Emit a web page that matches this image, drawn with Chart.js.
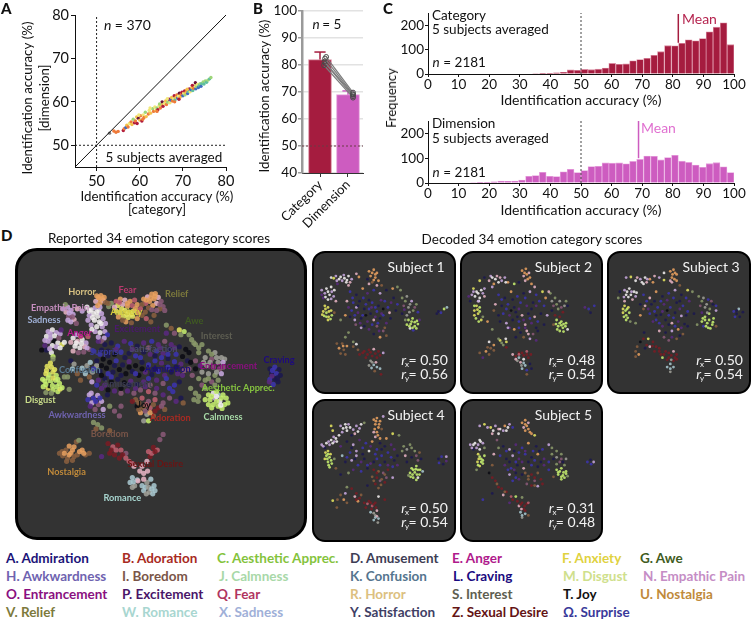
<!DOCTYPE html>
<html>
<head>
<meta charset="utf-8">
<title>Identification accuracy and emotion maps</title>
<script src="https://cdn.jsdelivr.net/npm/chart.js@4/dist/chart.umd.min.js"></script>
<style>
  html, body { margin: 0; padding: 0; background: #fff; }
  body { position: relative; width: 752px; height: 619px; overflow: hidden; font-family: Lato, sans-serif; color: #111; }
  canvas { position: absolute; }
  .txt { position: absolute; white-space: nowrap; transform: translateY(-50%); }
  .letter { font-weight: 900; font-size: 15px; }
  .title { font-size: 13.5px; transform: translate(-50%, -50%); }
  .legend { font-weight: 700; font-size: 13.5px; }
  .box { position: absolute; box-sizing: border-box; background: #333; border: 3px solid #000; }
</style>
</head>
<body>
<script>
'use strict';

// ---- panel A data ----
const ticksA = [50, 60, 70, 80];
const colorsA = ['#b01a3c', '#ee7a3a', '#f4c04a', '#f0e878', '#9ed67a', '#5ebfa0', '#3e6cc0', '#6a1238', '#777777'];
// x, y, colour index
const pointsA = [
  [53,52.8,8],[54,53.3,1],[54.5,53,1],[55,53.2,1],[56.2,53.4,0],[56.4,53.8,1],[56.8,54.1,6],[57,54.6,2],[57.3,54.2,1],[57.6,55,3],
  [58,55.4,1],[58.2,54.8,2],[58.5,56,4],[58.8,55.2,0],[59,55.6,1],[59.3,56.5,2],[59.4,55,0],[59.7,56.2,7],[60,55.8,2],[60.2,56.8,1],
  [60.5,55.6,0],[60.8,57,3],[61,56.4,1],[61.3,57.6,4],[61.5,56.6,2],[62,57.2,1],[62.2,58,3],[62.5,57.4,2],[63,58.4,4],[63.2,57.8,1],
  [63.5,58.8,3],[63.8,58,2],[64,58.6,4],[64.2,58.2,0],[64.5,59.1,3],[64.8,58.6,1],[65,59.4,2],[65.2,60,7],[65.4,59,0],[65.7,59.6,3],
  [66,60.2,2],[66.2,59.4,1],[66.5,59.9,4],[66.8,60.6,0],[67,59.8,3],[67.2,60.4,6],[67.4,61,2],[67.6,60.2,1],[67.9,60.8,3],[68,61.4,0],
  [68.2,60.5,5],[68.4,61,2],[68.6,61.6,1],[68.8,60.9,6],[69,61.3,3],[69.2,62,7],[69.4,61.1,2],[69.6,61.7,1],[69.8,62.2,0],[70,61.4,6],
  [70.2,62,3],[70.4,62.5,0],[70.5,61.6,4],[70.7,62.1,2],[70.9,62.7,1],[71.1,61.9,6],[71.3,62.4,5],[71.5,63,0],[71.7,62.3,3],[71.9,62.8,6],
  [72.1,63.3,2],[72.3,62.6,5],[72.5,63.1,1],[72.7,63.7,3],[72.9,64.4,7],[73,63,6],[73.2,63.5,4],[73.4,64,3],[73.6,63.3,6],[73.8,63.8,5],
  [74,64.2,4],[74.2,63.6,6],[74.4,64.2,5],[74.7,64.6,4],[74.9,64.1,5],[75.2,64.8,4],[75.5,64.5,5],[75.8,65,4],[76.2,65.3,5],[76.5,65.6,4],
  [62.4,58.6,3],[64.6,59.5,4],[66.4,60.7,3],[68.1,60,1],[69.1,60.6,0],[71,62.9,2],[72.2,63.8,0],[64,57.8,1],[60.7,56,1],[59.8,57,3]
];

// ---- panel B data ----
const categoriesB = ['Category', 'Dimension'];
const ticksB = [40, 50, 60, 70, 80, 90, 100];
const meansB = [82, 69];
const errorTopB = [84.8, 70.4];
const subjectsCategoryB = [83, 82.4, 81.2, 80.5, 79.9];
const subjectsDimensionB = [69.8, 69.2, 69, 68.4, 67.9];
const subjectsOffsetB = [0.22, 0.18, 0.16, 0.2, 0.14];

// ---- panel C data ----
const ticksCx = [0, 10, 20, 30, 40, 50, 60, 70, 80, 90, 100];
const ticksCy = [0, 100, 200];
const binCenters = [1.1,3.4,5.7,8.0,10.2,12.5,14.8,17.0,19.3,21.6,23.9,26.1,28.4,30.7,33.0,35.2,37.5,39.8,42.0,44.3,46.6,48.9,
  51.1,53.4,55.7,58.0,60.2,62.5,64.8,67.0,69.3,71.6,73.9,76.1,78.4,80.7,83.0,85.2,87.5,89.8,92.0,94.3,96.6,98.9];
const categoryFreq = [0,0,0,0,0,0,0,0,0,0,0,0,0,0,0,2,1,3,5,7,17,15,
  19,18,20,25,44,40,42,55,60,65,78,93,118,117,128,142,138,148,176,195,213,122];
const dimensionFreq = [0,0,0,0,0,0,2,1,3,5,8,7,8,12,27,30,43,27,26,45,55,42,
  50,66,67,81,80,81,77,87,95,109,108,93,103,112,88,83,72,63,78,82,65,42];
const meanCategory = 81.8;
const meanDimension = 68.8;

// ---- panel D data ----
const scatterColors = ['#f4f0f0', '#c9a8e0', '#e8b4c4', '#e8a060', '#e6e660', '#c8f070', '#8a9a6a', '#3c34b0', '#1c1850',
  '#5a2a80', '#7a1c24', '#8a6040', '#0c0c14', '#a8c8d0', '#8a5a78', '#c06070', '#a0a098'];

const reportedPoints = [
  [285,205,3],[298,204,3],[308,210,3],[293,215,3],[304,220,2],[312,225,11],[282,222,2],[295,228,3],
  [330,228,6],[345,222,15],[358,215,3],[372,218,2],[388,222,3],[402,218,15],[350,235,4],[365,232,2],[380,236,3],[395,235,15],[410,232,3],[322,238,6],
  [430,215,3],[442,208,2],[455,200,3],[466,198,3],[475,210,2],[462,214,3],[448,222,3],[436,228,15],[425,232,11],[470,228,2],[484,222,14],[490,238,14],[480,245,11],[458,235,3],[445,242,11],[470,250,14],[495,250,14],
  [345,252,4],[358,258,4],[372,250,4],[385,255,4],[398,252,4],[412,258,3],[352,270,3],[368,268,4],[382,272,4],[396,268,4],[410,275,3],[375,285,3],[392,288,11],[425,265,11],[438,275,15],[452,285,11],
  [255,240,0],[268,248,0],[280,242,1],[292,252,0],[275,260,0],[262,265,1],[288,268,0],[300,260,1],[278,280,0],[293,285,0],[305,275,1],[268,295,1],[285,300,0],[302,300,1],[310,315,1],[318,325,7],[295,318,0],[280,315,1],[308,335,1],[300,345,14],[240,252,1],
  [195,240,1],[205,250,1],[190,255,2],[212,262,1],[198,268,14],[215,278,2],[205,285,1],[222,290,14],[188,232,6],[225,245,2],
  [135,315,1],[148,310,0],[160,318,1],[172,322,1],[130,330,0],[142,335,1],[155,345,12],[165,350,0],[178,355,4],[185,348,0],[135,345,1],[148,358,0],[125,358,9],[115,372,12],[130,372,8],[160,362,1],[175,310,9],[145,380,0],[150,392,5],
  [212,335,0],[225,345,2],[240,340,0],[252,350,1],[218,360,0],[233,365,0],[248,362,2],[212,375,2],[228,380,14],[245,378,14],[258,330,15],[222,325,1],[262,370,14],
  [150,400,6],[145,425,4],[130,435,4],[155,432,4],[138,448,5],[160,450,5],[125,468,5],[142,470,5],[158,465,5],[170,475,5],[120,485,5],[135,490,4],[150,495,5],[165,500,5],[128,503,6],[172,492,4],[145,505,6],[140,482,12],[185,455,6],[200,493,6],[195,455,6],
  [205,405,8],[215,415,16],[240,428,13],[255,420,16],[265,410,13],[250,445,13],[262,455,11],[235,465,11],[272,440,16],[285,420,16],[210,430,13],[225,445,11],
  [290,345,9],[310,355,8],[330,350,8],[350,360,7],[370,345,9],[390,352,7],[410,360,8],[430,350,9],[455,345,7],[475,355,9],[495,345,14],[515,355,9],[540,362,8],[560,370,12],
  [275,375,7],[295,385,7],[320,375,8],[340,385,12],[360,378,7],[385,382,8],[405,390,7],[430,378,8],[450,385,9],[470,375,7],[490,382,9],[510,370,8],[530,385,7],[550,392,12],[570,380,12],[585,350,6],
  [285,405,8],[305,400,12],[325,410,12],[345,405,7],[365,418,8],[385,408,9],[405,420,12],[425,410,8],[445,418,7],[465,405,7],[485,412,9],[505,398,8],[525,408,7],[545,415,9],[565,405,8],
  [275,430,7],[295,438,8],[315,428,12],[335,440,8],[355,432,12],[375,445,12],[395,438,8],[415,450,12],[435,440,9],[455,448,8],[475,438,7],[495,450,9],[515,440,8],[535,445,9],[555,435,14],
  [290,465,9],[310,460,8],[330,470,12],[350,462,8],[370,472,12],[390,468,9],[410,478,8],[430,470,9],[450,480,14],[470,465,9],[490,475,14],[510,490,7],[525,480,7],[520,500,7],[540,470,8],
  [320,495,12],[318,510,8],[340,498,9],[360,505,14],[380,498,9],[400,505,14],[420,495,14],[445,500,15],[465,505,14],[490,510,9],[510,520,14],[545,520,8],[552,535,11],[530,530,9],
  [262,510,1],[275,520,7],[258,525,7],[288,512,1],[270,535,1],[290,540,14],[300,530,1],[280,555,14],[305,555,1],[325,545,6],[340,560,14],[355,575,14],[360,545,14],[300,490,9],
  [405,525,11],[425,520,15],[445,530,14],[465,525,15],[490,535,14],[410,545,12],[430,550,11],[450,550,15],[475,550,10],[495,555,11],[420,565,3],[440,570,16],[460,575,11],[430,590,16],[445,590,5],[395,530,10],
  [275,595,6],[288,602,6],[283,615,11],[325,620,11],[300,612,6],
  [500,295,6],[515,305,11],[540,310,4],[555,315,5],[570,325,6],[545,325,6],[578,340,6],[525,320,14],[500,320,9],
  [590,355,6],[610,355,6],[630,375,6],[650,380,16],[670,395,16],[600,380,6],[620,395,16],[640,400,14],[660,410,16],[680,400,16],[590,405,14],[605,420,9],[625,420,16],[645,425,14],[665,430,14],[610,440,16],[630,445,16],[650,450,6],[670,445,1],[600,460,6],[620,465,6],[640,470,14],[660,465,6],[590,430,12],
  [575,490,6],[590,505,6],[600,515,6],[585,525,6],[598,530,6],
  [630,510,5],[645,505,0],[660,510,13],[675,510,5],[685,520,5],[635,525,5],[650,520,1],[665,530,0],[680,540,5],[630,540,5],[645,540,5],[660,545,5],[672,552,5],[655,500,5],
  [820,430,8],[835,425,7],[848,432,8],[825,445,8],[840,445,7],[852,450,8],[820,462,7],[835,462,8],[845,470,8],[830,478,7],[818,470,9],
  [178,685,11],[190,680,11],[205,690,3],[215,670,3],[222,655,11],[180,698,11],[195,705,11],[210,712,11],[225,695,11],[240,680,3],[250,695,11],[262,690,11],[230,650,6],[200,668,3],
  [320,660,10],[335,670,15],[350,665,10],[325,690,10],[340,695,10],[360,680,15],[375,690,14],[355,705,10],[385,715,15],[400,730,2],[300,700,9],[445,685,15],[460,672,10],[472,680,15],[450,700,10],[440,715,2],[418,745,2],[430,752,2],[442,745,2],
  [395,765,13],[410,772,13],[388,780,13],[402,790,16],[425,790,13],[440,780,16],[452,770,13],[462,790,13],[430,805,13],[448,810,16],[465,805,13],[412,775,2],[490,632,14],[480,648,14],
  [128,445,4],[150,440,4],[118,462,5],[135,458,5],[150,458,4],[165,462,5],[128,478,5],[148,482,5],[162,485,5],[178,488,5],[132,422,4],[142,412,4],
  [262,252,0],[272,272,0],[285,255,0],[295,240,1],[258,280,1],[270,308,0],[290,332,1],[312,290,1],[298,290,0],[200,258,1],[210,270,14],[196,280,1],[180,245,1],
  [142,322,1],[155,328,0],[168,335,14],[125,342,1],[140,368,1],[172,365,0],[222,350,0],[238,352,0],[205,348,2],[235,330,15],[255,365,1],
  [290,210,3],[302,214,3],[288,235,3],[320,228,11],[362,245,4],[378,262,4],[392,262,4],[405,244,3],[340,240,2],[420,245,15],[365,280,11],[355,225,15],[380,228,3],
  [438,218,3],[452,212,3],[465,206,3],[480,232,14],[455,248,14],[435,255,11],[462,265,11],
  [300,372,8],[320,390,8],[345,370,9],[372,395,8],[395,370,9],[420,395,7],[445,365,14],[465,390,8],[480,365,9],[505,385,7],[525,365,9],[300,420,12],[320,445,7],[340,420,8],[360,450,8],[385,425,12],[405,445,7],[425,430,12],[445,460,7],[465,430,8],[485,395,7],[505,425,7],[530,425,8],[550,450,9],[570,430,14],[300,450,12],[330,455,7],[360,490,12],[385,480,8],[405,490,9],[435,485,9],[470,490,9],[500,460,7],[285,480,7],[270,470,1],[310,480,9],[575,410,12],[580,450,14],
  [600,365,6],[640,385,6],[655,395,16],[675,410,1],[615,410,16],[635,410,16],[655,440,16],[675,425,14],[630,460,6],[650,480,6],[610,480,14],[620,490,6],
  [640,515,5],[655,530,5],[670,520,5],[640,550,5],[620,525,5],[690,535,5],[668,542,0],[655,515,0],[828,435,7],[843,458,8],[826,452,9],
  [415,535,11],[438,540,15],[460,540,11],[485,545,14],[435,560,14],[450,565,3],[415,555,11],[465,560,10],[268,505,1],[282,530,7],[295,520,7],[265,545,9],
  [185,690,3],[200,695,3],[215,700,11],[232,685,3],[192,715,11],[170,690,11],[245,690,3],[210,680,3],
  [330,680,10],[345,680,15],[365,695,10],[375,705,15],[395,722,15],[455,690,15],[465,685,10],[425,730,2],
  [398,778,13],[395,795,16],[435,795,13],[445,795,16],[455,800,13],[438,815,16],[458,815,13],[430,770,2]
];

const subject1Points = [
  [70,150,0],[85,145,1],[100,148,0],[112,152,0],[125,145,0],[135,155,1],[150,138,2],[158,148,3],[118,165,0],[105,160,1],[125,175,2],[78,152,4],[90,170,9],
  [190,130,3],[205,125,3],[215,135,3],[195,145,3],[210,150,3],[220,160,3],[200,165,11],[215,175,2],[185,155,8],[230,175,11],
  [40,190,1],[55,185,0],[70,180,0],[80,190,0],[50,200,1],[65,205,0],[78,210,1],[85,225,2],[60,220,0],[45,215,9],
  [50,240,4],[60,245,4],[45,258,4],[55,262,5],[70,255,4],[48,272,5],[62,275,4],[72,270,5],[60,285,4],[80,262,11],
  [130,195,7],[150,205,8],[170,185,3],[185,200,9],[205,190,7],[225,200,1],[245,190,8],[265,185,3],[280,180,6],[120,225,2],[140,230,7],[160,225,8],[180,235,7],[200,230,7],[220,240,8],[240,225,7],[260,230,9],
  [135,255,7],[155,262,9],[175,250,8],[195,265,8],[215,258,7],[235,250,12],[255,262,2],[275,255,8],[145,285,1],[165,280,8],[185,290,9],[205,285,2],[225,280,8],[245,295,9],[115,270,3],[100,285,6],
  [165,310,1],[190,315,9],[215,305,14],[235,320,14],[245,335,11],[205,330,8],[225,340,3],[150,245,1],[170,270,7],[210,275,9],[190,250,7],[130,275,8],[230,265,9],
  [295,215,6],[310,210,16],[325,225,1],[340,235,6],[300,240,14],[315,245,16],[330,255,6],[345,260,7],[295,265,8],[310,270,16],
  [315,285,5],[328,280,5],[342,288,5],[310,300,5],[322,298,5],[335,305,5],[345,298,5],[320,312,0],[330,318,7],[350,285,9],
  [410,258,8],[405,265,8],[418,262,7],[428,250,5],[437,245,13],
  [105,360,11],[95,375,3],[110,380,11],[100,392,11],[120,368,3],[115,340,6],[125,325,6],[150,362,0],[140,370,11],[155,380,11],[160,395,10],[175,385,10],[190,380,10],[205,378,2],[220,385,10],[235,390,1],[185,395,10],[200,400,10],[215,405,10],[195,415,16],[205,428,13],[215,435,13],[190,430,16],[225,440,13],[208,448,11],[228,458,10],
  [95,155,0],[110,142,1],[120,158,0],[130,165,2],[88,160,1],[200,135,3],[210,140,3],[205,158,3],[190,170,2],[60,195,0],[72,195,1],[52,212,0],[70,218,1],[40,205,9],[52,250,4],[63,258,4],[55,275,5],[42,268,4],[68,282,5],
  [138,215,7],[155,240,8],[172,215,7],[190,222,8],[210,245,7],[228,222,9],[250,245,7],[268,215,8],[125,245,9],[145,270,7],[162,295,9],[180,270,12],[198,245,9],[218,295,7],[235,270,7],[258,280,8],[280,235,7],[175,305,8],[200,300,7],[222,320,9],[148,300,14],[240,310,11],
  [290,190,6],[305,225,6],[320,235,16],[335,245,14],[318,260,16],[302,252,9],[325,290,5],[335,292,5],[318,305,5],[328,310,5],[340,312,5],[305,285,6],[170,390,10],[195,388,10],[210,392,10],[180,405,10],[225,398,10],[200,420,16],[198,438,13],[212,420,2],[140,355,6],[88,360,11],[108,368,3],[115,395,11]
];

const subject2Points = [
  [515,160,4],[550,145,1],[565,155,0],[580,150,2],[560,170,3],[595,150,1],[605,165,3],[625,170,5],[545,160,2],[575,165,0],[530,150,8],
  [650,128,3],[662,122,3],[672,135,2],[655,145,2],[668,155,3],[680,170,3],[690,180,2],[640,165,8],
  [490,205,1],[505,195,0],[520,190,0],[530,185,1],[500,210,0],[515,215,0],[485,225,8],[530,210,2],[495,185,4],
  [505,240,4],[515,245,5],[498,255,4],[510,265,4],[503,280,5],[520,285,4],[525,275,6],[512,225,0],
  [575,205,7],[595,215,8],[615,195,3],[635,210,7],[655,200,8],[675,195,1],[695,205,7],[715,195,4],[565,235,2],[585,240,8],[605,235,7],[625,245,8],[645,230,7],[665,240,9],[685,230,8],[705,225,7],[725,215,3],
  [590,265,7],[610,270,9],[630,260,8],[650,270,2],[670,265,8],[690,275,2],[710,265,8],[580,290,8],[600,295,1],[620,285,8],[640,290,7],[660,300,2],[680,295,9],[700,290,7],[730,270,1],
  [625,315,3],[645,325,8],[665,320,2],[685,330,14],[700,320,8],[655,340,11],[675,345,1],[610,310,9],[540,290,3],[560,255,11],[630,340,8],[695,350,9],
  [740,200,6],[755,215,6],[770,225,16],[785,240,16],[750,240,14],[765,250,6],[780,260,10],[735,195,2],[795,240,8],
  [760,285,5],[775,290,5],[790,295,5],[765,305,5],[780,310,5],[795,315,0],[770,320,5],[750,300,11],[755,270,10],
  [862,250,7],[868,262,8],[880,240,7],[850,245,9],
  [550,375,11],[535,385,3],[545,395,11],[525,405,9],[560,365,3],[555,315,6],[580,350,4],[590,365,6],[575,345,6],[598,345,0],[600,372,10],[545,355,0],[515,390,11],
  [630,400,10],[650,390,10],[665,385,15],[620,395,2],[640,405,13],[655,410,0],[670,405,10],[645,420,2],[660,430,13],[650,440,13],[665,445,7],[675,425,8],[680,440,8],[665,458,11],[635,415,16],
  [555,150,0],[570,145,2],[585,160,1],[598,165,0],[555,180,1],[658,135,3],[665,140,3],[660,160,2],[675,150,3],[510,200,0],[525,200,1],[495,195,1],[510,225,1],[480,210,9],[498,240,5],[508,252,4],[515,258,5],[498,270,4],[512,290,5],
  [585,220,7],[600,250,7],[620,220,8],[640,250,9],[660,215,7],[680,250,8],[695,240,9],[720,240,7],[575,270,8],[615,255,12],[635,275,8],[655,285,9],[675,280,7],[695,310,8],[605,310,1],[640,310,7],[660,310,9],[670,330,2],[720,300,8],
  [745,225,16],[760,235,6],[775,245,14],[790,225,6],[745,255,8],[770,275,10],[770,295,5],[782,298,5],[758,298,5],[775,302,5],[788,305,5],[762,315,5],[782,322,5],[640,390,10],[655,398,10],[630,410,2],[665,395,10],[648,430,16],[655,422,13],[640,395,15],[678,395,10],[560,382,11],[540,372,11],[585,358,6],[600,355,4]
];

const subject3Points = [
  [955,150,1],[970,148,4],[985,160,0],[1000,155,1],[1015,150,0],[1030,155,3],[1045,145,2],[1060,150,1],[1010,170,0],[1020,165,2],[1075,135,0],[1075,158,4],
  [1095,130,3],[1105,125,3],[1115,140,3],[1100,150,3],[1115,160,3],[1100,165,2],[1125,175,11],
  [935,195,8],[950,190,1],[965,185,0],[980,195,0],[955,205,0],[970,205,0],[985,210,1],[975,220,2],[930,215,6],[950,225,2],
  [950,240,4],[958,250,5],[945,262,4],[955,270,5],[965,262,5],[955,285,5],[968,290,6],
  [1010,205,7],[1030,215,2],[1050,195,3],[1070,210,8],[1090,200,7],[1110,190,1],[1130,205,8],[1150,190,4],[1165,195,6],[1015,240,2],[1035,235,8],[1055,245,7],[1075,235,9],[1095,245,7],[1115,230,8],[1135,240,7],[1155,225,9],
  [1030,265,7],[1050,270,8],[1070,258,9],[1090,270,7],[1110,262,8],[1130,272,1],[1150,258,7],[1170,265,8],[1040,290,9],[1060,295,7],[1080,285,8],[1100,295,2],[1120,290,9],[1140,298,8],[1000,270,3],[985,295,6],
  [1080,325,8],[1100,320,1],[1120,315,3],[1135,330,11],[1100,340,9],[1150,305,8],[1060,320,2],[1090,350,14],[1115,345,11],[1010,250,11],[1000,235,8],
  [1185,210,6],[1200,215,16],[1215,220,7],[1230,235,8],[1190,240,14],[1205,245,16],[1220,250,6],[1240,255,1],
  [1205,275,5],[1218,265,5],[1232,280,5],[1195,290,5],[1212,295,5],[1228,300,5],[1240,305,11],[1215,310,5],[1180,300,6],[1200,305,7],
  [1296,258,7],[1305,265,8],[1312,250,13],[1300,275,7],[1315,275,8],[1325,260,8],
  [990,370,11],[985,385,11],[995,395,3],[985,402,11],[1012,325,8],[1025,345,4],[1040,355,10],[1030,370,2],[1050,370,10],[1045,385,10],[1060,385,10],[1075,395,10],[1090,390,10],[1105,385,2],[1115,395,10],[1070,405,5],[1090,405,10],[1105,415,10],[1095,425,13],[1085,435,13],[1105,435,13],[1095,450,16],[1115,410,10],[1020,365,10],[1000,355,12],
  [990,150,2],[1005,165,0],[1022,155,1],[1040,165,3],[1110,135,3],[1102,140,3],[1108,155,3],[1095,160,2],[958,195,0],[972,195,1],[988,198,0],[962,212,0],[948,212,1],[953,255,5],[962,245,4],[948,275,5],[960,278,5],[945,250,4],
  [1020,225,7],[1045,225,8],[1065,225,7],[1085,222,9],[1105,215,7],[1125,225,8],[1145,215,7],[1025,250,9],[1045,258,7],[1065,268,8],[1085,255,12],[1105,278,7],[1125,250,9],[1145,270,8],[1050,285,7],[1070,305,9],[1090,300,8],[1110,305,7],[1130,310,9],[1075,340,14],[1125,335,8],
  [1195,225,6],[1210,235,16],[1225,225,14],[1240,240,7],[1195,262,9],[1212,262,16],[1205,285,5],[1218,285,5],[1230,292,5],[1208,305,5],[1222,312,5],[1198,280,5],[1305,255,8],[1065,395,10],[1080,385,10],[1098,398,10],[1085,412,10],[1110,405,10],[1098,412,16],[1095,440,13],[1038,368,10],[1060,375,10],[1010,345,10],[1015,375,8]
];

const subject4Points = [
  [70,100,4],[75,115,4],[100,100,1],[115,95,0],[130,105,0],[120,115,0],[105,120,1],[150,100,1],[165,95,0],[160,108,1],[175,90,6],[145,125,2],[135,130,8],
  [205,80,3],[215,75,3],[225,85,3],[210,95,3],[220,105,3],[215,120,3],[210,135,2],[225,140,3],[235,70,1],[230,110,11],
  [40,160,1],[55,155,0],[70,145,0],[85,140,0],[65,160,1],[80,150,1],[95,130,0],[100,165,9],[50,170,8],
  [60,180,4],[55,195,5],[50,205,4],[65,200,5],[60,215,5],[72,220,5],[80,205,6],[65,232,5],[85,235,11],
  [120,150,8],[140,160,1],[160,145,9],[180,155,7],[200,150,3],[225,155,8],[245,140,3],[265,125,4],[285,130,6],[130,185,7],[150,180,1],[170,190,8],[190,180,0],[210,190,7],[230,175,8],[250,185,7],[270,175,9],
  [115,215,8],[135,210,1],[155,225,7],[175,205,8],[195,220,9],[215,205,7],[240,215,8],[260,200,7],[280,195,8],[140,240,9],[165,245,7],[185,235,8],[105,195,13],[280,225,9],[265,230,7],[150,195,1],[125,250,6],[100,255,8],
  [300,165,6],[320,160,6],[335,180,6],[350,185,11],[305,195,2],[325,200,8],[345,210,14],[355,205,8],
  [325,235,5],[340,228,5],[352,240,5],[320,250,5],[335,248,5],[350,255,5],[330,265,5],[345,265,0],[315,258,6],[360,245,13],
  [410,205,8],[420,198,7],[435,198,1],[412,218,7],[425,222,8],[435,212,9],
  [205,240,10],[220,245,11],[235,250,14],[250,240,10],[200,262,11],[215,265,10],[230,270,11],[245,265,14],[210,285,10],[228,288,11],[265,265,1],[185,290,8],
  [100,320,11],[115,315,1],[90,335,11],[110,335,3],[75,338,4],[120,345,11],[88,360,11],[120,295,6],[135,300,10],[150,315,10],[145,325,2],[160,330,10],[155,340,3],[175,345,10],[190,340,10],[210,345,10],[220,325,0],[240,335,10],[180,360,10],[200,355,15],[215,370,2],[195,375,13],[210,385,16],[220,395,13],[205,400,13],[218,408,16],
  [108,108,0],[125,95,1],[118,105,0],[140,112,1],[155,118,0],[212,85,3],[222,95,3],[208,110,3],[218,130,3],[205,120,2],[62,150,1],[75,155,0],[88,150,0],[78,135,1],[45,165,1],[60,190,5],[52,185,4],[68,190,4],[58,205,5],[70,210,5],[62,225,5],
  [135,170,8],[170,170,7],[195,165,9],[215,175,7],[240,165,8],[260,160,9],[120,200,7],[145,205,8],[165,215,9],[185,225,7],[205,215,8],[225,225,7],[250,225,9],[270,210,8],[230,195,7],
  [295,180,6],[310,175,16],[325,170,6],[340,195,14],[310,215,8],[330,240,5],[345,240,5],[328,255,5],[342,255,5],[338,238,5],[322,262,5],[340,272,5],[215,250,10],[240,255,11],[225,275,14],[205,275,11],[240,280,10],[220,298,11],[195,345,10],[205,350,10],[185,348,15],[198,365,10],[212,360,10],[205,378,16],[215,388,2],[210,392,13],[150,335,10],[165,320,11]
];

const subject5Points = [
  [515,100,1],[530,95,4],[550,105,4],[565,100,1],[580,110,0],[595,100,3],[610,95,1],[555,125,2],[575,125,0],[600,115,0],[620,105,7],[570,145,14],
  [650,90,3],[660,82,3],[670,90,2],[655,105,2],[670,110,3],[680,125,3],[690,130,4],
  [485,160,1],[500,155,0],[515,145,0],[525,155,1],[505,170,1],[495,175,8],[530,170,6],
  [510,190,4],[520,205,5],[508,215,4],[525,220,5],[515,228,4],[505,240,6],[530,195,5],
  [590,165,8],[610,175,1],[630,160,9],[650,170,7],[670,155,3],[695,165,8],[715,175,7],[735,160,1],[580,195,7],[600,205,8],[620,195,1],[640,205,9],[660,190,7],[680,200,8],[700,190,3],[720,205,9],
  [595,225,9],[615,235,7],[635,225,8],[655,235,2],[680,225,7],[700,230,8],[720,225,9],[735,215,7],[610,255,1],[630,250,8],[640,270,9],[620,275,7],[555,225,11],[575,170,6],[560,190,2],[735,240,7],
  [745,170,6],[760,180,6],[775,190,6],[790,205,16],[750,205,8],[770,215,14],[785,225,6],
  [760,240,5],[775,235,5],[790,245,5],[765,255,5],[780,258,5],[795,260,6],[775,270,5],[750,262,11],
  [858,215,7],[868,208,8],[878,215,1],[870,222,7],
  [660,250,11],[680,255,10],[700,250,11],[670,270,11],[690,275,14],[710,270,10],[680,290,10],[700,292,1],
  [545,250,12],[555,265,10],[570,285,11],[585,300,10],[600,310,10],[615,325,15],[590,320,2],[630,325,5],[650,328,6],[635,340,10],[650,345,10],[665,348,10],[640,355,2],[655,365,10],[645,375,13],[660,380,13],[650,392,16],[670,385,11],[555,315,8],[610,345,9],[525,335,7],
  [540,105,1],[558,115,0],[575,110,2],[590,115,1],[605,105,0],[660,95,3],[665,100,3],[660,115,3],[675,120,3],[495,160,0],[510,160,1],[518,150,0],[490,170,1],[515,175,0],[515,198,5],[525,210,5],[512,205,4],[520,215,5],[510,225,5],
  [600,180,7],[625,180,8],[640,185,7],[660,180,9],[685,180,7],[705,180,8],[610,215,8],[630,215,7],[650,215,9],[670,215,8],[690,210,7],[710,215,8],[605,240,7],[625,240,9],[650,255,8],[630,265,7],
  [745,190,6],[760,200,16],[775,205,14],[760,222,6],[780,215,8],[770,245,5],[782,248,5],[765,248,5],[775,262,5],[785,265,5],[790,252,5],[670,260,11],[690,265,10],[665,285,14],[690,290,11],[715,285,10],[645,350,10],[658,355,10],[670,345,15],[648,365,2],[660,370,10],[650,385,13],[575,295,10],[595,310,11],[620,335,10],[565,275,10]
];

const subjectNames = ['Subject 1', 'Subject 2', 'Subject 3', 'Subject 4', 'Subject 5'];
const subjectRx = ['0.50', '0.48', '0.50', '0.50', '0.31'];
const subjectRy = ['0.56', '0.54', '0.54', '0.54', '0.48'];

// emotion names on the big map, with the spot each is written at
const emotionLabels = [
  ['Horror',240,192,'#d6c081'],['Fear',380,188,'#b83a6e'],['Relief',532,198,'#7d7a3c'],['Empathic Pain',172,243,'#c78fc0'],
  ['Anxiety',377,256,'#d8cf40'],['Sadness',122,281,'#9fb0d6'],['Awe',586,283,'#3f5a22'],['Interest',655,328,'#5e5e52'],
  ['Excitement',410,308,'#4a1a6b'],['Anger',232,319,'#b41a8c'],['Surprise',315,378,'#3a3a99'],['Satisfaction',460,369,'#4a4a6a'],
  ['Entrancement',692,420,'#8a0f7f'],['Craving',848,403,'#1e0a7e'],['Admiration',504,430,'#1c0e7a'],['Confusion',233,433,'#5a7a92'],
  ['Amusement',380,478,'#3e3e55'],['Aesthetic Apprec.',722,489,'#86c440'],['Disgust',111,525,'#c9dc8a'],['Joy',431,541,'#111111'],
  ['Calmness',675,577,'#a8dba8'],['Awkwardness',224,571,'#6f63b0'],['Adoration',512,583,'#a82a22'],['Boredom',325,631,'#795548'],
  ['Sexual Desire',466,723,'#6b1414'],['Nostalgia',192,749,'#c08a3a'],['Romance',364,829,'#a8d6d0']
];

// legend rows: text, colour, left edge
const legendRows = [
  [['A. Admiration','#1c1478',6],['B. Adoration','#a82a22',122],['C. Aesthetic Apprec.','#84c33c',217],['D. Amusement','#3d3d55',350],['E. Anger','#b01a8c',452],['F. Anxiety','#dfd23f',562],['G. Awe','#3f5c22',640]],
  [['H. Awkwardness','#6f63b0',6],['I. Boredom','#7a5548',122],['J. Calmness','#a8d8a8',219],['K. Confusion','#55758e',350],['L. Craving','#1a0a80',453],['M. Disgust','#cfe08c',563],['N. Empathic Pain','#c58dc5',643]],
  [['O. Entrancement','#8a1080',6],['P. Excitement','#4a1668',122],['Q. Fear','#b03560',217],['R. Horror','#dcc080',350],['S. Interest','#5e5e50',452],['T. Joy','#111111',563],['U. Nostalgia','#c08a3a',640]],
  [['V. Relief','#7d7a3c',6],['W. Romance','#a8d6d0',122],['X. Sadness','#a0b0d8',219],['Y. Satisfaction','#404065',350],['Z. Sexual Desire','#641414',452],['\u03A9. Surprise','#3a3a9a',563]]
];
const legendY = [558, 576, 594, 612];

Chart.defaults.font.family = 'Lato, sans-serif';
Chart.defaults.color = '#111';
Chart.defaults.animation = false;

// writes extra text on a chart at data coordinates
const notesPlugin = {
  id: 'notes',
  afterDraw(chart, args, opts) {
    const ctx = chart.ctx;
    (opts.items || []).forEach(function (n) {
      ctx.save();
      ctx.font = (n.style || 'normal') + ' ' + (n.weight || 400) + ' ' + (n.size || 14) + 'px Lato, sans-serif';
      ctx.fillStyle = n.color || '#111';
      ctx.textAlign = n.align || 'left';
      ctx.textBaseline = 'middle';
      ctx.translate(chart.scales.x.getPixelForValue(n.x), chart.scales.y.getPixelForValue(n.y));
      if (n.rot) ctx.rotate(n.rot);
      ctx.fillText(n.text, 0, 0);
      ctx.restore();
    });
  }
};
Chart.register(notesPlugin);

function addCanvas(left, top, w, h) {
  const c = document.createElement('canvas');
  c.width = w;
  c.height = h;
  c.style.left = left + 'px';
  c.style.top = top + 'px';
  c.style.width = w + 'px';
  c.style.height = h + 'px';
  document.body.appendChild(c);
  return c;
}

function addText(text, x, y, cls, color) {
  const d = document.createElement('div');
  d.className = 'txt ' + cls;
  d.textContent = text;
  d.style.left = x + 'px';
  d.style.top = y + 'px';
  if (color) d.style.color = color;
  document.body.appendChild(d);
}

function lineSet(points, color, width, dash) {
  return {
    type: 'line', data: points, borderColor: color, borderWidth: width, borderDash: dash || [],
    pointRadius: 0, fill: false, tension: 0, parsing: { xAxisKey: 'x', yAxisKey: 'y' }
  };
}

function useTicks(values) {
  return function (scale) { scale.ticks = values.map(v => ({ value: v })); };
}

function fitWidth(w) { return function (scale) { scale.width = w; }; }
function fitHeight(h) { return function (scale) { scale.height = h; }; }

// ---- A ----
new Chart(addCanvas(0, 0, 240, 220), {
  type: 'scatter',
  data: {
    datasets: [
      lineSet([{ x: 45, y: 45 }, { x: 80, y: 80 }], '#111', 1),
      lineSet([{ x: 50, y: 45 }, { x: 50, y: 80 }], '#222', 1, [2, 2]),
      lineSet([{ x: 45, y: 50 }, { x: 80, y: 50 }], '#222', 1, [2, 2]),
      {
        data: pointsA.map(p => ({ x: p[0], y: p[1] })),
        pointBackgroundColor: pointsA.map(p => colorsA[p[2]]),
        pointBorderWidth: 0,
        pointRadius: 1.7
      }
    ]
  },
  options: {
    responsive: false,
    layout: { padding: { top: 15, right: 14 } },
    plugins: {
      legend: { display: false },
      tooltip: { enabled: false },
      notes: {
        items: [
          { x: 51.7, y: 77.7, text: 'n', style: 'italic', size: 14 },
          { x: 54.2, y: 77.7, text: '= 370', size: 14 },
          { x: 65.6, y: 47.2, text: '5 subjects averaged', align: 'center', size: 13.5 },
          { x: 64, y: 38.1, text: 'Identification accuracy (%)', align: 'center', size: 13.3 },
          { x: 64, y: 35.1, text: '[category]', align: 'center', size: 13.3 },
          { x: 34.1, y: 60.9, text: 'Identification accuracy (%)', align: 'center', size: 13.3, rot: -Math.PI / 2 },
          { x: 38, y: 60.9, text: '[dimension]', align: 'center', size: 13.3, rot: -Math.PI / 2 }
        ]
      }
    },
    scales: {
      x: {
        type: 'linear', min: 45, max: 80, afterBuildTicks: useTicks(ticksA), afterFit: fitHeight(53),
        border: { color: '#111' }, grid: { drawOnChartArea: false, tickLength: 4, tickColor: '#111' },
        ticks: { font: { size: 14.5 }, padding: 2, maxRotation: 0 }
      },
      y: {
        type: 'linear', min: 45, max: 80, afterBuildTicks: useTicks(ticksA), afterFit: fitWidth(75),
        border: { color: '#111' }, grid: { drawOnChartArea: false, tickLength: 4, tickColor: '#111' },
        ticks: { font: { size: 14.5 }, padding: 2 }
      }
    }
  }
});

// ---- B ----
const subjectSetsB = subjectsCategoryB.map(function (v, i) {
  const s = lineSet([{ x: subjectsOffsetB[i], y: v }, { x: 1.18, y: subjectsDimensionB[i] }], '#7c7c7c', 1.2);
  s.pointRadius = 2.4;
  s.pointBorderColor = '#4a4a4a';
  s.pointBorderWidth = 1;
  s.pointBackgroundColor = 'rgba(0,0,0,0)';
  return s;
});

new Chart(addCanvas(240, 0, 140, 240), {
  type: 'bar',
  data: {
    datasets: [
      lineSet([{ x: -0.643, y: 50 }, { x: 1.536, y: 50 }], '#6a3a44', 1, [2, 2]),
      ...subjectSetsB,
      lineSet([{ x: 0, y: meansB[0] }, { x: 0, y: errorTopB[0] }], '#a51c3f', 1.5),
      lineSet([{ x: -0.2, y: errorTopB[0] }, { x: 0.2, y: errorTopB[0] }], '#a51c3f', 1.5),
      lineSet([{ x: 1, y: meansB[1] }, { x: 1, y: errorTopB[1] }], '#cd5cc0', 1.5),
      lineSet([{ x: 0.8, y: errorTopB[1] }, { x: 1.2, y: errorTopB[1] }], '#cd5cc0', 1.5),
      {
        type: 'bar',
        data: [{ x: 0, y: meansB[0] }, { x: 1, y: meansB[1] }],
        backgroundColor: ['#a51c3f', '#cd5cc0'],
        borderColor: ['#d98aa0', '#e6a0dc'],
        borderWidth: 1,
        barThickness: 23,
        order: 5
      }
    ]
  },
  options: {
    responsive: false,
    layout: { padding: { top: 11, right: 17 } },
    plugins: {
      legend: { display: false },
      tooltip: { enabled: false },
      notes: {
        items: [
          { x: -0.27, y: 94.8, text: 'n', style: 'italic', size: 13.5 },
          { x: 0.08, y: 94.8, text: '= 5', size: 13.5 },
          { x: -1.96, y: 68.5, text: 'Identification accuracy (%)', align: 'center', size: 13.3, rot: -Math.PI / 2 }
        ]
      }
    },
    scales: {
      x: {
        type: 'linear', offset: false, min: -0.643, max: 1.536, afterBuildTicks: useTicks([0, 1]), afterFit: fitHeight(67),
        border: { color: '#333' }, grid: { offset: false, drawOnChartArea: false, tickLength: 4, tickColor: '#333' },
        ticks: { font: { size: 13 }, padding: 0, minRotation: 45, maxRotation: 45, callback: v => categoriesB[v] }
      },
      y: {
        min: 40, max: 100, afterBuildTicks: useTicks(ticksB), afterFit: fitWidth(62),
        border: { color: '#9a9a9a', width: 2.5 },
        grid: { color: '#e2e2e2', lineWidth: 1.5, tickLength: 4, tickColor: '#9a9a9a' },
        ticks: { font: { size: 13.5 }, padding: 1 }
      }
    }
  }
});

// ---- C ----
function histogram(canvas, freq, color, edge, meanX, meanTop, yMax, zeroHeight, padTop, notes) {
  new Chart(canvas, {
    type: 'bar',
    data: {
      datasets: [
        lineSet([{ x: 50, y: 0 }, { x: 50, y: yMax }], '#444', 1, [2, 2]),
        lineSet([{ x: meanX, y: meanTop[0] }, { x: meanX, y: meanTop[1] }], color, 1.5),
        {
          type: 'bar',
          data: binCenters.map((c, i) => ({ x: c, y: freq[i] })).filter(p => p.y > 0),
          backgroundColor: color,
          borderColor: edge,
          borderWidth: 0.8,
          barPercentage: 1,
          categoryPercentage: 1,
          order: 5
        }
      ]
    },
    options: {
      responsive: false,
      layout: { padding: { top: padTop, right: 18 } },
      plugins: { legend: { display: false }, tooltip: { enabled: false }, notes: { items: notes } },
      scales: {
        x: {
          type: 'linear', offset: false, min: 0, max: 100, afterBuildTicks: useTicks(ticksCx), afterFit: fitHeight(zeroHeight),
          border: { color: '#111' }, grid: { offset: false, drawOnChartArea: false, tickLength: 3, tickColor: '#111' },
          ticks: { font: { size: 13.5 }, padding: 0, maxRotation: 0, autoSkip: false },
          title: { display: true, text: 'Identification accuracy (%)', font: { size: 14 }, padding: { top: 0, bottom: 1 } }
        },
        y: {
          min: 0, max: yMax, afterBuildTicks: useTicks(ticksCy), afterFit: fitWidth(48),
          border: { color: '#111' }, grid: { drawOnChartArea: false, tickLength: 3, tickColor: '#111' },
          ticks: { font: { size: 13.5 }, padding: 1 }
        }
      }
    }
  });
}

histogram(addCanvas(380, 0, 372, 110), categoryFreq, '#a51c3f', '#d98aa0', meanCategory, [130, 250], 254, 36, 13, [
  { x: 1.3, y: 242, text: 'Category', size: 13.5 },
  { x: 1.3, y: 183, text: '5 subjects averaged', size: 13.5 },
  { x: 1.5, y: 46, text: 'n', style: 'italic', size: 13.5 },
  { x: 5, y: 46, text: '= 2181', size: 13.5 },
  { x: 83, y: 225, text: 'Mean', color: '#b5244f' }
]);
histogram(addCanvas(380, 110, 372, 110), dimensionFreq, '#cd5cc0', '#e6a0dc', meanDimension, [100, 250], 250, 37, 11, [
  { x: 1.3, y: 239, text: 'Dimension', size: 13.5 },
  { x: 1.3, y: 178, text: '5 subjects averaged', size: 13.5 },
  { x: 1.5, y: 40, text: 'n', style: 'italic', size: 13.5 },
  { x: 5, y: 40, text: '= 2181', size: 13.5 },
  { x: 69.6, y: 219, text: 'Mean', color: '#e070d0' }
]);

// ---- D ----
function mapChart(left, top, w, h, radius, points, pointSize, xRange, yRange, notes) {
  const box = document.createElement('div');
  box.className = 'box';
  box.style.cssText = 'left:' + left + 'px;top:' + top + 'px;width:' + w + 'px;height:' + h + 'px;border-radius:' + radius + 'px;';
  if (w < 200) box.style.borderWidth = '2.5px';
  document.body.appendChild(box);
  new Chart(addCanvas(left, top, w, h), {
    type: 'scatter',
    data: {
      datasets: [{
        data: points.map(p => ({ x: p[0], y: p[1] })),
        pointBackgroundColor: points.map(p => scatterColors[p[2]] + 'dd'),
        pointBorderWidth: 0,
        pointRadius: pointSize
      }]
    },
    options: {
      responsive: false,
      plugins: { legend: { display: false }, tooltip: { enabled: false }, notes: { items: notes } },
      scales: {
        x: { display: false, min: xRange[0], max: xRange[1] },
        y: { display: false, reverse: true, min: yRange[0], max: yRange[1] }
      }
    }
  });
}

mapChart(15, 248, 292, 292, 22, reportedPoints, 2.6, [45, 922], [70, 945],
  emotionLabels.map(l => ({ text: l[0], x: l[1], y: l[2], color: l[3], align: 'center', size: 9.2, weight: 700 })));

function subjectNotes(i, x0, y0) {
  return [
    { x: x0 + 408, y: y0 + 40, text: subjectNames[i], align: 'right', color: '#f2f2f2', size: 14 },
    { x: x0 + 270, y: y0 + 336, text: 'r', style: 'italic', color: '#f2f2f2', size: 14 },
    { x: x0 + 282, y: y0 + 348, text: 'x', color: '#f2f2f2', size: 8 },
    { x: x0 + 418, y: y0 + 336, text: '= ' + subjectRx[i], align: 'right', color: '#f2f2f2', size: 14 },
    { x: x0 + 270, y: y0 + 380, text: 'r', style: 'italic', color: '#f2f2f2', size: 14 },
    { x: x0 + 282, y: y0 + 393, text: 'y', color: '#f2f2f2', size: 8 },
    { x: x0 + 418, y: y0 + 380, text: '= ' + subjectRy[i], align: 'right', color: '#f2f2f2', size: 14 }
  ];
}

mapChart(312, 251, 144, 143, 13, subject1Points, 1.4, [22, 453], [78, 508], subjectNotes(0, 22, 78));
mapChart(460, 251, 143, 143, 13, subject2Points, 1.4, [465, 895], [78, 508], subjectNotes(1, 465, 78));
mapChart(607, 251, 144, 143, 13, subject3Points, 1.4, [907, 1338], [78, 508], subjectNotes(2, 907, 78));
mapChart(312, 399, 144, 143, 13, subject4Points, 1.4, [22, 453], [27, 457], subjectNotes(3, 22, 27));
mapChart(460, 399, 143, 143, 13, subject5Points, 1.4, [465, 895], [27, 457], subjectNotes(4, 465, 27));

// ---- page text ----
addText('A', 1, 8, 'letter');
addText('B', 253, 8, 'letter');
addText('C', 383, 8, 'letter');
addText('D', 1, 235, 'letter');
addText('Reported 34 emotion category scores', 159, 238, 'title');
addText('Decoded 34 emotion category scores', 532, 239, 'title');

const freqLabel = document.createElement('div');
freqLabel.textContent = 'Frequency';
freqLabel.style.cssText = 'position:absolute;left:391px;top:98px;font-size:13px;white-space:nowrap;transform:translate(-50%,-50%) rotate(-90deg);';
document.body.appendChild(freqLabel);

legendRows.forEach(function (row, r) {
  row.forEach(function (item) {
    addText(item[0], item[2], legendY[r], 'legend', item[1]);
  });
});
</script>
</body>
</html>
